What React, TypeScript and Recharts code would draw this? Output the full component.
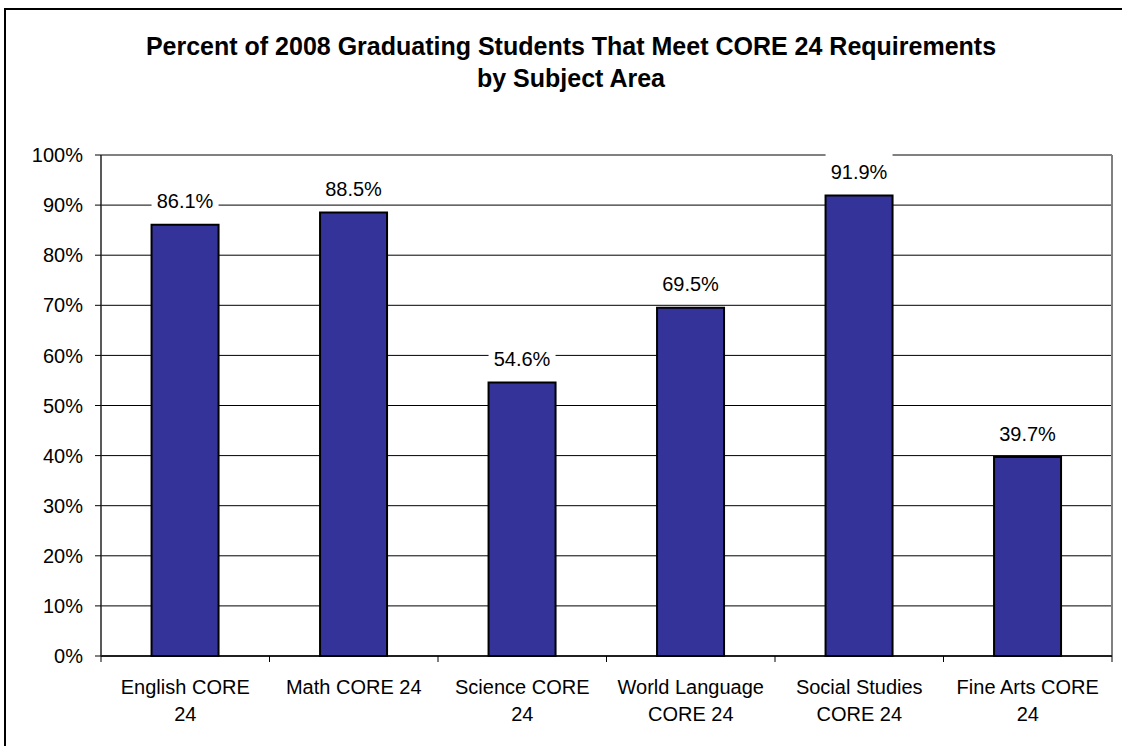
import React from "react";
import { BarChart, Bar, XAxis, YAxis, CartesianGrid, LabelList } from "recharts";

const categories = [
  "English CORE\n24",
  "Math CORE 24",
  "Science CORE\n24",
  "World Language\nCORE 24",
  "Social Studies\nCORE 24",
  "Fine Arts CORE\n24",
];
const percentMet = [86.1, 88.5, 54.6, 69.5, 91.9, 39.7];
const yTicks = [0, 10, 20, 30, 40, 50, 60, 70, 80, 90, 100];
const titleLines = [
  "Percent of 2008 Graduating Students That Meet CORE 24 Requirements",
  "by Subject Area",
];

const data = categories.map((c, i) => ({ name: c, value: percentMet[i] }));

const FONT = "Arial, 'Liberation Sans', sans-serif";

const GridLine = (props: any) => {
  const { x1, x2, y1, y, x, width, height } = props;
  const isTop = Math.abs(y1 - y) < 0.5;
  if (isTop) {
    return (
      <g>
        <line x1={x1} x2={x2} y1={y1} y2={y1} stroke="#808080" strokeWidth={2} />
        <line x1={x + width} x2={x + width} y1={y} y2={y + height} stroke="#808080" strokeWidth={2} />
      </g>
    );
  }
  return <line x1={x1} x2={x2} y1={y1} y2={y1} stroke="#000" strokeWidth={1} />;
};

const XTick = (props: any) => {
  const { x, y, payload, index, visibleTicksCount, width } = props;
  const half = payload.offset ?? width / visibleTicksCount / 2;
  const lines = String(payload.value).split("\n");
  return (
    <g>
      <line x1={x - half} x2={x - half} y1={y} y2={y + 6} stroke="#000" strokeWidth={1} />
      {index === visibleTicksCount - 1 && (
        <line x1={x + half} x2={x + half} y1={y} y2={y + 6} stroke="#000" strokeWidth={1} />
      )}
      {lines.map((l, i) => (
        <text key={i} x={x} y={y + 38 + i * 27} textAnchor="middle" fontSize={20} fontFamily={FONT} fill="#000">
          {l}
        </text>
      ))}
    </g>
  );
};

const DataLabel = (props: any) => {
  const { x, y, width, value } = props;
  const cy = y - 23.5;
  return (
    <g>
      <rect x={x} y={cy - 19} width={width} height={32} fill="#fff" />
      <text x={x + width / 2} y={cy} textAnchor="middle" dominantBaseline="central" fontSize={20} fontFamily={FONT} fill="#000">
        {`${value}%`}
      </text>
    </g>
  );
};

export default function App() {
  return (
    <div style={{ position: "absolute", left: 0, top: 0, width: 1122, height: 746, background: "#fff" }}>
      <svg width={1122} height={746} style={{ position: "absolute", left: 0, top: 0 }}>
        <line x1={5} x2={1122} y1={9} y2={9} stroke="#000" strokeWidth={2} />
        <line x1={5} x2={5} y1={8} y2={746} stroke="#000" strokeWidth={2} />
        {titleLines.map((t, i) => (
          <text key={i} x={571} y={55 + i * 32} textAnchor="middle" fontSize={25} fontWeight="bold" fontFamily={FONT} fill="#000">
            {t}
          </text>
        ))}
      </svg>
      <div style={{ position: "absolute", left: 0, top: 0 }}>
        <BarChart width={1122} height={746} data={data} margin={{ top: 155, right: 10, bottom: 0, left: 6 }} barCategoryGap="30%">
          <CartesianGrid vertical={false} horizontal={(p: any) => <GridLine {...p} />} stroke="#000" />
          <XAxis
            dataKey="name"
            interval={0}
            tickLine={false}
            tickSize={0}
            tickMargin={0}
            height={90}
            axisLine={{ stroke: "#000", strokeWidth: 1.5 }}
            tick={(p: any) => <XTick {...p} />}
          />
          <YAxis
            width={95}
            domain={[0, 100]}
            ticks={yTicks}
            interval={0}
            tickFormatter={(v: number) => `${v}%`}
            tickSize={6}
            tickMargin={12}
            axisLine={{ stroke: "#222", strokeWidth: 1.5 }}
            tickLine={{ stroke: "#000" }}
            tick={{ fontSize: 20, fontFamily: FONT, fill: "#000" }}
          />
          <Bar dataKey="value" fill="#333399" stroke="#000" strokeWidth={2} isAnimationActive={false}>
            <LabelList dataKey="value" content={(p: any) => <DataLabel {...p} />} />
          </Bar>
        </BarChart>
      </div>
    </div>
  );
}
